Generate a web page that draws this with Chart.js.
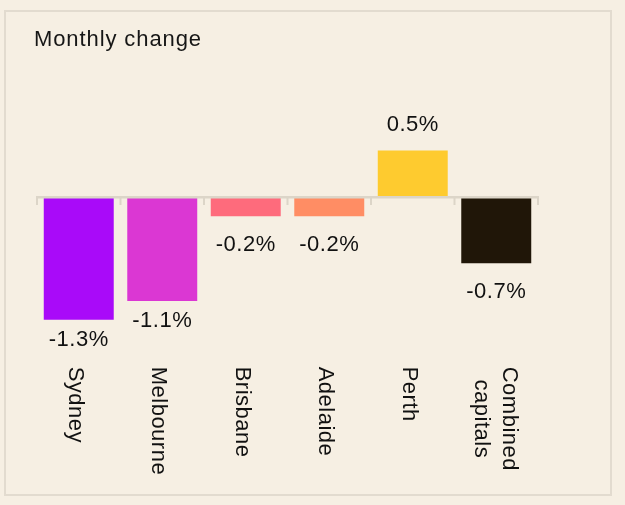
<!DOCTYPE html>
<html>
<head>
<meta charset="utf-8">
<script src="https://cdn.jsdelivr.net/npm/chart.js@4"></script>
<style>
  html, body { margin: 0; padding: 0; background: #f6efe3; }
  #card {
    position: absolute; left: 4px; top: 10px; width: 608px; height: 486px;
    box-sizing: border-box; border: 2px solid #e2dbcf; background: #f6efe3;
  }
  canvas { display: block; }
</style>
</head>
<body>
<div id="card"><canvas id="chart" width="604" height="482"></canvas></div>
<script>
// ---------------- data ----------------
const TITLE = "Monthly change";
const cities = ["Sydney", "Melbourne", "Brisbane", "Adelaide", "Perth", ["Combined", "capitals"]];
const changes = [-1.3, -1.1, -0.2, -0.2, 0.5, -0.7];
const barColors = ["#a90af9", "#db37d3", "#fe6b7c", "#ff8d64", "#fecb2f", "#201608"];

const FONT = '"Liberation Sans", Arial, sans-serif';
const INK = "#111111";
const AXIS = "#dcd5c8";

const fmt = (v) => v.toFixed(1) + "%";

// zero line, ticks, value labels, rotated category labels, title
const decor = {
  id: "decor",
  afterDatasetsDraw(chart) {
    const { ctx, scales: { x, y } } = chart;
    const meta = chart.getDatasetMeta(0);
    const zeroY = y.getPixelForValue(0);
    const n = cities.length;
    const step = (x.right - x.left) / n;

    ctx.save();
    ctx.letterSpacing = "0.5px";

    // zero line + boundary ticks
    ctx.fillStyle = AXIS;
    ctx.fillRect(x.left - 1, zeroY - 1.5, x.right - x.left + 2, 2.5);
    for (let i = 0; i <= n; i++) {
      ctx.fillRect(x.left + i * step - 1, zeroY - 1.5, 2, 9);
    }

    // value labels
    ctx.fillStyle = INK;
    ctx.font = "22px " + FONT;
    ctx.textAlign = "center";
    ctx.textBaseline = "alphabetic";
    meta.data.forEach((el, i) => {
      const v = changes[i];
      const len = Math.abs(el.y - el.base);
      const off = len > 80 ? 18 : 27;
      const cy = v < 0 ? el.y + off : el.y - off;
      ctx.fillText(fmt(v), el.x, cy + 7.8);
    });

    // category labels, rotated 90deg clockwise, reading downwards
    const startY = y.bottom + 9.4;
    const L = 28.5;
    ctx.textAlign = "left";
    cities.forEach((c, i) => {
      const lines = Array.isArray(c) ? c : [c];
      const cx = x.getPixelForValue(i);
      const widths = lines.map(t => ctx.measureText(t).width);
      const maxW = Math.max(...widths);
      const base = lines.length > 1 ? -7.5 : -10;
      lines.forEach((t, j) => {
        const bx = cx + base + (lines.length - 1) * L / 2 - j * L;
        ctx.save();
        ctx.translate(bx, startY + (maxW - widths[j]) / 2);
        ctx.rotate(Math.PI / 2);
        ctx.fillText(t, 0, 0);
        ctx.restore();
      });
    });

    // title
    ctx.font = "22px " + FONT;
    ctx.fillStyle = "#161616";
    ctx.letterSpacing = "0.9px";
    ctx.fillText(TITLE, 28, 33.7);
    ctx.restore();
  }
};

new Chart(document.getElementById("chart"), {
  type: "bar",
  data: {
    labels: cities,
    datasets: [{
      data: changes,
      backgroundColor: barColors,
      borderWidth: 0,
      barPercentage: 0.838,
      categoryPercentage: 1
    }]
  },
  options: {
    responsive: false,
    animation: false,
    layout: { padding: { left: 31, right: 72, top: 91.5, bottom: 136.7 } },
    plugins: { legend: { display: false }, tooltip: { enabled: false }, title: { display: false } },
    scales: {
      x: { display: false },
      y: { display: false, min: -1.7, max: 1.0 }
    }
  },
  plugins: [decor]
});
</script>
</body>
</html>
